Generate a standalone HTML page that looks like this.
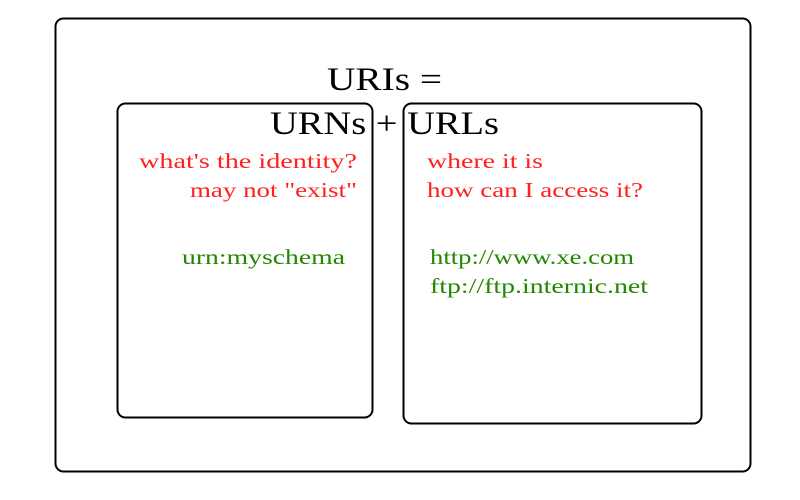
<!DOCTYPE html>
<html><head><style>body{margin:0;background:#fff}svg{display:block}</style></head><body>
<svg width="800" height="500" xmlns="http://www.w3.org/2000/svg" font-family="'Liberation Serif', serif">
<rect x="55.5" y="18.5" width="695" height="453" rx="8" fill="none" stroke="#000" stroke-width="2"/>
<rect x="117.5" y="103.5" width="255" height="314" rx="8" fill="none" stroke="#000" stroke-width="2"/>
<rect x="403.5" y="103.5" width="298" height="320" rx="8" fill="none" stroke="#000" stroke-width="2"/>
<g font-size="33">
<text x="327" y="90" textLength="115" lengthAdjust="spacingAndGlyphs">URIs =</text>
<text x="270" y="134" textLength="229" lengthAdjust="spacingAndGlyphs">URNs + URLs</text>
</g>
<g fill="#ff2020" font-size="21">
<text x="139" y="168" textLength="218" lengthAdjust="spacingAndGlyphs">what's the identity?</text>
<text x="190" y="197" textLength="167" lengthAdjust="spacingAndGlyphs">may not "exist"</text>
<text x="427" y="168" textLength="116" lengthAdjust="spacingAndGlyphs">where it is</text>
<text x="427" y="197" textLength="216" lengthAdjust="spacingAndGlyphs">how can I access it?</text>
</g>
<g fill="#228800" font-size="21">
<text x="182" y="264" textLength="163" lengthAdjust="spacingAndGlyphs">urn:myschema</text>
<text x="430" y="264" textLength="204" lengthAdjust="spacingAndGlyphs">http://www.xe.com</text>
<text x="430" y="293" textLength="218" lengthAdjust="spacingAndGlyphs">ftp://ftp.internic.net</text>
</g>
</svg>
</body></html>
